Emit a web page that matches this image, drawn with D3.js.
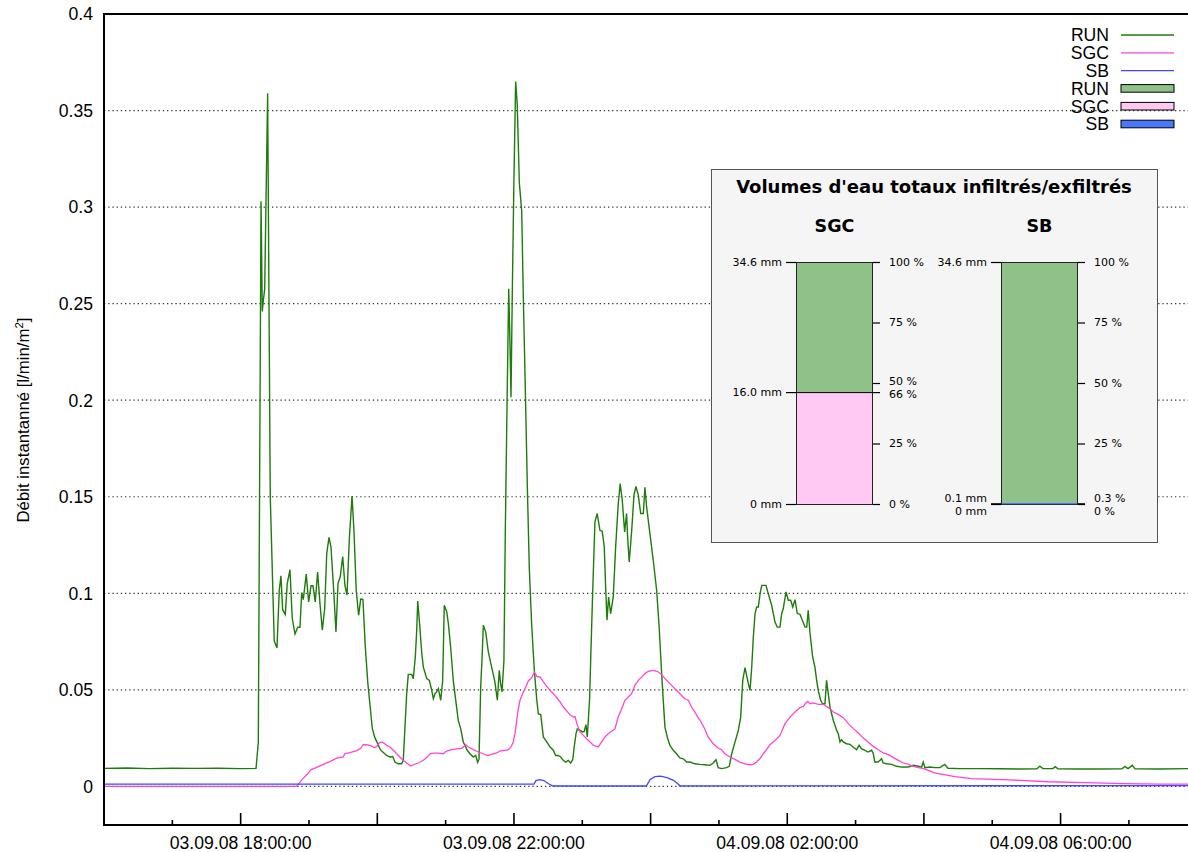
<!DOCTYPE html>
<html><head><meta charset="utf-8">
<script src="https://cdn.jsdelivr.net/npm/d3@7"></script>
<style>
body{margin:0;background:#fff}
svg{display:block}
text{font-family:"Liberation Sans",Arial,sans-serif;fill:#000}
.inset text{font-family:"DejaVu Sans",sans-serif}
</style>
</head><body>
<svg id="chart" width="1188" height="852"></svg>
<script>
// ---- DATA (times in minutes after 03.09.08 16:00:00, values in l/min/m2) ----
const startTime = "03.09.08 16:00:00";
const endTime = "04.09.08 07:51:54";
const runPoints = [[0,0.0093],[20,0.0095],[40,0.0092],[60,0.0094],[80,0.0093],[100,0.0094],[120,0.0092],[133.5,0.0093],[135.5,0.0228],[137.9,0.303],[139,0.246],[139.9,0.2515],[141.1,0.2575],[143.7,0.359],[146,0.15],[147.5,0.118],[149.5,0.0753],[151.9,0.0717],[153.9,0.1015],[155.4,0.109],[156.9,0.0915],[159.2,0.089],[160.9,0.105],[163.3,0.1122],[165.3,0.0872],[167.7,0.0789],[170.1,0.0824],[172.1,0.0824],[173.6,0.1003],[175,0.0967],[177.6,0.1099],[179.7,0.0955],[181.8,0.1039],[183.5,0.1039],[185.5,0.0955],[187.6,0.111],[189.7,0.0943],[191.7,0.0809],[193.8,0.092],[195.6,0.1207],[197.6,0.129],[199.3,0.1241],[201.7,0.1015],[203.7,0.08],[205.5,0.1051],[207.5,0.1087],[209.6,0.119],[211.6,0.1039],[213.4,0.0991],[215.4,0.1277],[217.8,0.1503],[219.5,0.1324],[221.5,0.1015],[223.6,0.0886],[225.4,0.097],[227.4,0.0968],[229.4,0.0729],[231.6,0.054],[233.6,0.042],[235.6,0.030],[237.7,0.0255],[239.7,0.0229],[242.7,0.019],[245.3,0.0176],[248.2,0.016],[251.1,0.0152],[253.5,0.0155],[255.5,0.0126],[258.4,0.0117],[261.4,0.0117],[262.8,0.0135],[264.3,0.0307],[265.8,0.048],[267.2,0.058],[270.2,0.058],[271.6,0.0558],[273.4,0.0673],[274.6,0.0808],[275.5,0.096],[276.9,0.086],[279,0.0694],[280.4,0.0618],[283.4,0.0558],[285.7,0.0549],[287.8,0.0497],[289.2,0.0454],[290.7,0.048],[292.1,0.0489],[293.6,0.0506],[295.7,0.0446],[297.4,0.0549],[298.8,0.0938],[301,0.0903],[302.4,0.0843],[304.4,0.0722],[306.7,0.0549],[309.1,0.0435],[311.1,0.0342],[313.2,0.0299],[315.5,0.023],[317,0.0212],[319,0.0187],[321.4,0.0169],[324.3,0.0152],[326.4,0.0161],[328.1,0.0124],[329.3,0.0141],[330.8,0.0515],[331.9,0.0653],[333.1,0.0834],[335.2,0.0799],[337.5,0.0696],[340.4,0.0618],[343.3,0.054],[345.4,0.0446],[347.1,0.0601],[348.3,0.0532],[349.5,0.0489],[351.2,0.0653],[352.4,0.132],[354.1,0.2052],[355.4,0.2577],[356.5,0.2296],[357.4,0.2015],[358.5,0.2541],[360,0.315],[361.5,0.365],[362.9,0.353],[364.7,0.3127],[366.8,0.298],[368.2,0.254],[370,0.205],[371.7,0.1564],[373.5,0.1124],[375.6,0.0832],[377.9,0.06],[380,0.045],[381.4,0.0375],[383.5,0.0372],[385.8,0.0256],[388.8,0.023],[391.7,0.0204],[394.6,0.0187],[396.6,0.016],[398.9,0.016],[401,0.0152],[403.3,0.0135],[405.4,0.0126],[407.7,0.0135],[409.8,0.0121],[411.6,0.0138],[412.9,0.0204],[414.5,0.0273],[415.6,0.0297],[418,0.029],[420.3,0.0282],[421.7,0.0285],[423.2,0.032],[424.4,0.0256],[426.4,0.045],[427.6,0.07],[429.1,0.1],[431.1,0.137],[433.1,0.1413],[435.5,0.1326],[437.5,0.1321],[439.3,0.124],[440.5,0.1033],[441.7,0.086],[443.1,0.0981],[444.9,0.0895],[447.2,0.0981],[449.3,0.124],[451.6,0.1465],[453.3,0.1568],[455.1,0.1482],[457.2,0.1318],[458.9,0.1413],[459.8,0.1292],[461.2,0.1162],[463.3,0.1318],[465.4,0.1508],[467.1,0.1554],[469.2,0.1508],[471.3,0.1413],[473.6,0.1413],[475,0.1549],[476.5,0.1447],[479.4,0.1309],[482.3,0.1171],[485.3,0.1016],[487.5,0.0825],[489.7,0.0584],[491.1,0.0446],[492.6,0.0307],[494.6,0.0256],[497,0.0212],[499.9,0.0187],[502.8,0.0169],[505.7,0.0147],[508.7,0.0143],[511.6,0.0126],[514.5,0.0126],[518.9,0.0117],[523.3,0.0114],[527.7,0.0112],[532.1,0.0109],[535,0.0121],[537.4,0.0138],[539.4,0.0097],[542.4,0.0092],[546.8,0.0097],[549.1,0.0104],[551.2,0.0169],[554.1,0.0229],[557,0.029],[559.1,0.0359],[560.9,0.0549],[562.9,0.0615],[565.8,0.0532],[567.3,0.0497],[568.8,0.0618],[570.2,0.0774],[571.7,0.0895],[573.2,0.0929],[574.6,0.0929],[576.1,0.0998],[577.6,0.1041],[581.3,0.1041],[583.3,0.0998],[586.3,0.0938],[589.2,0.0851],[591.2,0.0825],[593.6,0.0825],[595.1,0.0895],[596.5,0.0921],[598.9,0.1007],[600.9,0.0964],[603,0.0964],[604.8,0.0929],[606.8,0.0967],[608.8,0.0895],[611.2,0.0891],[612.6,0.0869],[615.6,0.0825],[617.1,0.0825],[618.4,0.0912],[620,0.0791],[622.3,0.067],[624.3,0.0618],[625.8,0.0549],[627.2,0.0497],[629.3,0.0446],[631,0.0428],[633.1,0.0428],[634.5,0.0549],[636,0.048],[637.5,0.0411],[640.4,0.0342],[643.4,0.029],[644.8,0.0273],[646.3,0.023],[647.7,0.0242],[649.1,0.023],[652.1,0.0221],[655,0.0218],[657.9,0.0204],[660.9,0.019],[663.1,0.0213],[665.2,0.0195],[668.2,0.0187],[671,0.0178],[674,0.0187],[675.4,0.0173],[676.9,0.0126],[679.8,0.0126],[682.8,0.0143],[684.2,0.0121],[687.2,0.0117],[691.6,0.0114],[696,0.0104],[700.4,0.01],[706.3,0.01],[710.6,0.0109],[715,0.0104],[718,0.01],[719.4,0.0126],[720.9,0.0097],[725.3,0.01],[729.7,0.0097],[734.1,0.0097],[738.2,0.0114],[741.1,0.0094],[751.7,0.0092],[769.2,0.0092],[786.8,0.0091],[804.3,0.009],[819.2,0.0091],[821.8,0.0105],[824.5,0.0092],[833.3,0.0092],[835.3,0.0102],[837.7,0.0091],[857,0.009],[874.6,0.009],[893.9,0.0091],[896.5,0.0103],[899.2,0.0092],[903,0.0109],[905.4,0.0091],[927.3,0.009],[951.9,0.0092]];
const sgcPoints = [[0,0],[169.2,0],[173.6,0.0034],[178,0.006],[181.8,0.0087],[186.2,0.0097],[191.2,0.011],[195.6,0.0122],[198.4,0.0128],[204.3,0.0146],[210.1,0.0153],[211.6,0.017],[216,0.0175],[221.9,0.0185],[225.4,0.0197],[227.7,0.0217],[231.2,0.0215],[235.1,0.0208],[237.3,0.0201],[239.5,0.0206],[241.5,0.0224],[243.8,0.023],[246.7,0.022],[248.2,0.0212],[251.1,0.0204],[254,0.0187],[257,0.0169],[259.9,0.0152],[262.8,0.0135],[265.8,0.0121],[269.3,0.0105],[271.6,0.0112],[276,0.0121],[280.4,0.0135],[283.4,0.0149],[286.3,0.0169],[289.2,0.0172],[293.6,0.0172],[297.9,0.0169],[300.9,0.0183],[305.3,0.019],[309.7,0.0194],[314.1,0.0197],[315.5,0.0204],[317.6,0.0216],[319.9,0.0204],[324.3,0.019],[328.7,0.0178],[333.1,0.0169],[336.6,0.016],[340.4,0.0166],[344.8,0.0173],[347.7,0.0183],[352.1,0.0187],[355,0.019],[357.4,0.0204],[359.4,0.023],[360.9,0.0273],[362.4,0.0342],[363.8,0.0402],[365.3,0.0446],[367.6,0.048],[370.3,0.0515],[372.6,0.0546],[375.6,0.0563],[377.8,0.0592],[380.1,0.057],[383,0.0566],[385.9,0.0541],[388.9,0.0518],[391.7,0.0497],[394.6,0.048],[397.6,0.0459],[400.5,0.0437],[403.4,0.0411],[406.4,0.039],[409.3,0.037],[412.2,0.0359],[413.7,0.0362],[415.2,0.0325],[418,0.0282],[420.9,0.0264],[423.9,0.0247],[426.8,0.023],[429.7,0.0213],[432.6,0.0207],[434.1,0.0204],[437,0.023],[439.9,0.0256],[442.8,0.0273],[445.8,0.0285],[448.7,0.0299],[451.6,0.0359],[454.6,0.0402],[457.4,0.0446],[460.4,0.0463],[463.3,0.048],[466.2,0.0523],[469.2,0.0549],[472.1,0.0566],[475,0.0584],[477.9,0.0596],[482.3,0.0601],[485.8,0.0596],[489.7,0.058],[492.6,0.0558],[495.5,0.0541],[498.4,0.0523],[501.3,0.0506],[505.7,0.048],[510.1,0.0454],[513,0.0446],[516,0.0411],[518.9,0.0385],[521.8,0.0355],[523.3,0.0345],[527.7,0.0296],[530.5,0.0256],[534.9,0.0221],[539.3,0.0199],[542.3,0.019],[545.2,0.0169],[549.6,0.0152],[554,0.014],[558.4,0.0126],[562.8,0.0117],[567.2,0.0112],[570.1,0.0114],[573,0.0126],[576,0.0143],[578.9,0.0169],[581.8,0.019],[584.8,0.0216],[589.2,0.0238],[593.6,0.0264],[598,0.0325],[602.4,0.0359],[606.8,0.0385],[611.2,0.0408],[614.2,0.0414],[616.2,0.0432],[618,0.044],[620,0.0428],[622.9,0.0432],[627.3,0.0425],[631.7,0.0425],[636.1,0.0408],[640.5,0.0385],[644.8,0.0373],[649.2,0.0356],[653.6,0.0325],[658,0.0299],[662.4,0.0276],[666.8,0.025],[671.2,0.0229],[675.6,0.0207],[680,0.019],[684.4,0.0173],[688.8,0.0164],[693.2,0.0149],[697.6,0.0135],[702,0.0121],[706.4,0.0114],[710.8,0.0104],[715.2,0.0097],[719.6,0.0092],[724,0.0083],[728.4,0.0071],[732.8,0.0066],[747.2,0.005],[761.6,0.004],[795.1,0.0034],[828.6,0.0024],[862.1,0.0019],[895.7,0.0014],[929,0.0012],[951.9,0.0012]];
const sbPoints = [[0,0.0012],[377.6,0.0012],[379.3,0.003],[382.4,0.0035],[386.4,0.003],[389.9,0.0015],[394.3,0.0002],[476.3,0.0002],[479.4,0.0035],[483.8,0.005],[488.7,0.0053],[494.4,0.0045],[500.5,0.003],[506.1,0.0002],[951.9,0.0004]];
const yTicks = [0, 0.05, 0.1, 0.15, 0.2, 0.25, 0.3, 0.35, 0.4];
const yTickLabels = ["0", "0.05", "0.1", "0.15", "0.2", "0.25", "0.3", "0.35", "0.4"];
const legendLineNames = ["RUN", "SGC", "SB"];
const legendBoxNames = ["RUN", "SGC", "SB"];
const yLabel = "Débit instantanné [l/min/m";
const yLabelSup = "2";
// inset
const insetTitle = "Volumes d'eau totaux infiltrés/exfiltrés";
const panelNames = ["SGC", "SB"];
const totalMm = 34.6;
const totalMmLabel = "34.6 mm";
const zeroMmLabel = "0 mm";
const infiltratedMm = [16.0, 0.1];
const infiltratedMmLabels = ["16.0 mm", "0.1 mm"];
const infiltratedPctLabels = ["66 %", "0.3 %"];
const pctTicks = [0, 25, 50, 75, 100];
const pctTickLabels = ["0 %", "25 %", "50 %", "75 %", "100 %"];

// ---- STYLE ----
const runColor = "#1d7c0a", sgcColor = "#ff44d4", sbColor = "#3f47ff";
const runFill = "#8fc188", sgcFill = "#ffc9f3", sbFill = "#4a77ff";
const FS = 17.6;

const parse = d3.timeParse("%d.%m.%y %H:%M:%S");
const t0 = parse(startTime), t1 = parse(endTime);
const toDate = m => new Date(t0.getTime() + m * 60000);

const svg = d3.select("#chart");
const L = 104, R = 1188, T = 14, B = 825;
const x = d3.scaleTime().domain([t0, t1]).range([L, R]);
const y = d3.scaleLinear().domain([-0.02, 0.4]).range([B, T]);

svg.append("defs").append("clipPath").attr("id", "clip")
  .append("rect").attr("x", L).attr("y", T).attr("width", R - L).attr("height", B - T);

// grid lines
svg.append("g").selectAll("line").data(yTicks.filter(v => v < 0.4)).join("line")
  .attr("x1", L).attr("x2", R).attr("y1", d => y(d)).attr("y2", d => y(d))
  .attr("stroke", "#333").attr("stroke-width", 1.2).attr("stroke-dasharray", "1.3,2.9");

// y tick labels
svg.append("g").selectAll("text").data(yTicks).join("text")
  .attr("x", 93).attr("y", d => y(d)).attr("dy", "0.36em")
  .attr("text-anchor", "end").attr("font-size", FS)
  .text((d, i) => yTickLabels[i]);

// y label
const yl = svg.append("text").attr("transform", "translate(29,420) rotate(-90)")
  .attr("text-anchor", "middle").attr("font-size", 16.8);
yl.append("tspan").text(yLabel);
yl.append("tspan").attr("dy", -6).attr("font-size", 11.5).text(yLabelSup);
yl.append("tspan").attr("dy", 6).text("]");

// x axis ticks
const hours = d3.timeHour.every(1).range(d3.timeHour.ceil(t0), t1);
const xg = svg.append("g");
xg.selectAll("line").data(hours).join("line")
  .attr("x1", d => x(d)).attr("x2", d => x(d))
  .attr("y1", B).attr("y2", d => d.getHours() % 2 === 0 ? B - 12 : B - 5)
  .attr("stroke", "#000").attr("stroke-width", 1.6);
const fmt = d3.timeFormat("%d.%m.%y %H:%M:%S");
xg.selectAll("text").data(hours.filter(d => d.getHours() % 4 === 2)).join("text")
  .attr("x", d => x(d)).attr("y", 849).attr("text-anchor", "middle").attr("font-size", FS)
  .text(d => fmt(d));

// series
const line = d3.line().x(d => x(toDate(d[0]))).y(d => y(d[1]));
const plot = svg.append("g").attr("clip-path", "url(#clip)");
plot.append("path").datum(runPoints).attr("d", line).attr("fill", "none").attr("stroke", runColor).attr("stroke-width", 1.4);
plot.append("path").datum(sgcPoints).attr("d", line).attr("fill", "none").attr("stroke", sgcColor).attr("stroke-width", 1.3);
plot.append("path").datum(sbPoints).attr("d", line).attr("fill", "none").attr("stroke", sbColor).attr("stroke-width", 1.3);

// frame
svg.append("path").attr("d", `M${R},${T}H${L}V${B}H${R}`).attr("fill", "none").attr("stroke", "#000").attr("stroke-width", 2);

// legend
const lineColors = [runColor, sgcColor, sbColor];
const boxFills = [runFill, sgcFill, sbFill];
const lg = svg.append("g");
legendLineNames.forEach((n, i) => {
  const cy = 35 + i * 17.8;
  lg.append("text").attr("x", 1109).attr("y", cy).attr("dy", "0.36em").attr("text-anchor", "end").attr("font-size", FS).text(n);
  lg.append("line").attr("x1", 1121).attr("x2", 1174).attr("y1", cy).attr("y2", cy).attr("stroke", lineColors[i]).attr("stroke-width", 1.3);
});
legendBoxNames.forEach((n, i) => {
  const cy = 35 + (i + 3) * 17.8;
  lg.append("text").attr("x", 1109).attr("y", cy).attr("dy", "0.36em").attr("text-anchor", "end").attr("font-size", FS).text(n);
  lg.append("rect").attr("x", 1121).attr("y", cy - 3.8).attr("width", 53).attr("height", 7.6)
    .attr("fill", boxFills[i]).attr("stroke", "#000").attr("stroke-width", 1);
});

// ---- inset ----
const ins = svg.append("g").attr("class", "inset");
ins.append("rect").attr("x", 711.5).attr("y", 169.5).attr("width", 446).attr("height", 373)
  .attr("fill", "#f5f5f5").attr("stroke", "#555").attr("stroke-width", 1);
ins.append("text").attr("x", 934).attr("y", 192.5).attr("text-anchor", "middle")
  .attr("font-size", 18).attr("font-weight", "bold").text(insetTitle);

const ys = d3.scaleLinear().domain([0, totalMm]).range([504, 262]);
const yp = d3.scaleLinear().domain([0, 100]).range([504, 262]);
const panelX = [796, 1001];
const barW = 77;
const lowerFills = [sgcFill, sbFill];

function spread(items, gap) {
  items.sort((a, b) => a.y - b.y);
  items.forEach(it => it.ly = it.y);
  for (let i = 1; i < items.length; i++) {
    const a = items[i - 1], b = items[i];
    const d = b.ly - a.ly;
    if (d < gap) { const need = gap - d; a.ly -= need * 0.4; b.ly += need * 0.6; }
  }
  return items;
}

panelNames.forEach((name, i) => {
  const bx = panelX[i];
  const g = ins.append("g");
  g.append("text").attr("x", bx + barW / 2).attr("y", 231.5).attr("text-anchor", "middle")
    .attr("font-size", 17.5).attr("font-weight", "bold").text(name);
  const yb = ys(infiltratedMm[i]);
  // bars
  g.append("rect").attr("x", bx).attr("y", ys(totalMm)).attr("width", barW)
    .attr("height", yb - ys(totalMm)).attr("fill", runFill);
  g.append("rect").attr("x", bx + 0.5).attr("y", ys(totalMm) + 0.5).attr("width", barW - 1)
    .attr("height", ys(0) - ys(totalMm)).attr("fill", "none").attr("stroke", "#222").attr("stroke-width", 1);
  const lowH = ys(0) - yb;
  if (lowH > 3) {
    g.append("rect").attr("x", bx + 1).attr("y", yb).attr("width", barW - 2)
      .attr("height", lowH).attr("fill", lowerFills[i]);
    g.append("line").attr("x1", bx).attr("x2", bx + barW).attr("y1", yb + 0.5).attr("y2", yb + 0.5)
      .attr("stroke", "#000").attr("stroke-width", 1);
  } else {
    g.append("rect").attr("x", bx + 1).attr("y", yb - 0.3).attr("width", barW - 2)
      .attr("height", Math.max(lowH, 1.2)).attr("fill", lowerFills[i]);
  }
  // left axis (mm)
  const left = spread([
    {y: ys(totalMm), t: totalMmLabel},
    {y: yb, t: infiltratedMmLabels[i]},
    {y: ys(0), t: zeroMmLabel}], 13);
  left.forEach(it => {
    g.append("line").attr("x1", bx - 10).attr("x2", bx).attr("y1", it.y + 0.5).attr("y2", it.y + 0.5).attr("stroke", "#000").attr("stroke-width", 1.2);
    g.append("text").attr("x", bx - 14).attr("y", it.ly).attr("dy", "0.36em").attr("text-anchor", "end")
      .attr("font-size", 11).text(it.t);
  });
  // right axis (%)
  const right = spread(pctTicks.map((p, k) => ({y: yp(p), t: pctTickLabels[k]}))
    .concat([{y: yb, t: infiltratedPctLabels[i]}]), 13);
  right.forEach(it => {
    g.append("line").attr("x1", bx + barW).attr("x2", bx + barW + 7).attr("y1", it.y + 0.5).attr("y2", it.y + 0.5).attr("stroke", "#000").attr("stroke-width", 1.2);
    g.append("text").attr("x", bx + barW + 16).attr("y", it.ly).attr("dy", "0.36em")
      .attr("font-size", 11).text(it.t);
  });
});
</script>
</body></html>
